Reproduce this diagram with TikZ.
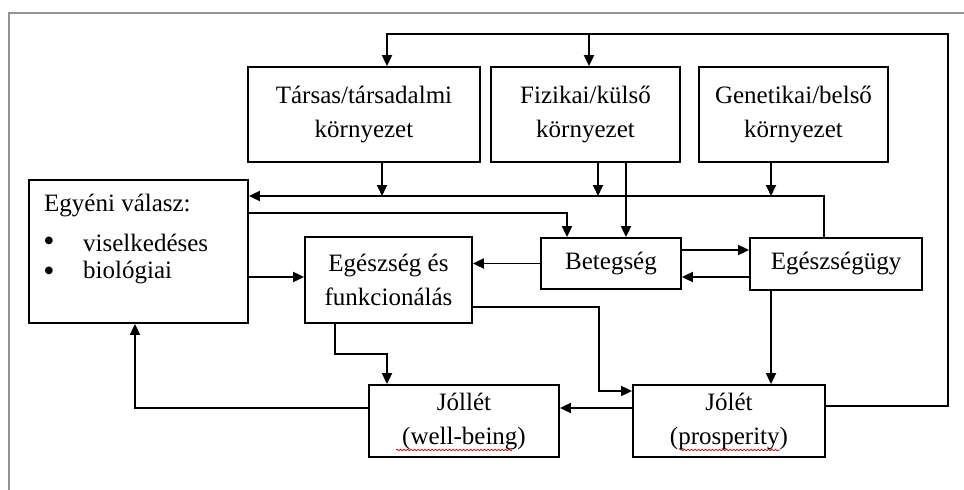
\documentclass[tikz,border=0pt]{standalone}
\usepackage{fontspec}
\setmainfont{Liberation Serif}
\usetikzlibrary{arrows.meta,decorations.pathmorphing}
\begin{document}
\begin{tikzpicture}[x=1pt,y=-1pt,
  box/.style={draw, line width=1.8pt, inner sep=0pt, align=center, font=\fontsize{25}{34}\selectfont},
  txt/.style={inner sep=0pt, font=\fontsize{25}{30}\selectfont},
  bul/.style={inner sep=0pt, font=\fontsize{32}{30}\selectfont},
  arr/.style={line width=1.8pt, -{Triangle[length=11pt,width=10pt]}},
  squig/.style={red!85!black, line width=0.8pt, decorate, decoration={snake, amplitude=0.7pt, segment length=3.5pt}}]
\useasboundingbox (0,0) rectangle (964,490);
\draw[gray!85, line width=2pt] (9,490) -- (9,13) -- (964,13);

\node[box, minimum width=232pt, minimum height=95pt] (tarsas) at (364,114.5) {Társas/társadalmi\\környezet};
\node[box, minimum width=189pt, minimum height=95pt] (fiz) at (585.5,114.5) {Fizikai/külső\\környezet};
\node[box, minimum width=189pt, minimum height=95pt] (gen) at (793.5,114.5) {Genetikai/belső\\környezet};
\node[box, minimum width=219pt, minimum height=143pt] (egyeni) at (138.5,251.5) {};
\node[txt, anchor=west] (egyt) at (44,206) {Egyéni válasz:};
\node[bul, anchor=center] (bul1) at (49,244) {•};
\node[txt, anchor=west] (vis) at (83,243) {viselkedéses};
\node[bul, anchor=center] (bul2) at (49,274) {•};
\node[txt, anchor=west] (bio) at (83,273) {biológiai};
\node[box, minimum width=167pt, minimum height=86pt] (egesz) at (388.5,280) {Egészség és\\funkcionálás};
\node[box, minimum width=140pt, minimum height=51pt] (betegseg) at (611,263.5) {Betegség};
\node[box, minimum width=172pt, minimum height=52pt] (egu) at (836,264) {Egészségügy};
\node[box, minimum width=190pt, minimum height=72pt] (jollet) at (464,421) {Jóllét\\(well-being)};
\node[box, minimum width=192pt, minimum height=72pt] (jolet) at (729,421) {Jólét\\(prosperity)};

\coordinate (topline) at (948,34);
\coordinate (fbl) at (0,196);
\coordinate (c1) at (0,354);
\coordinate (c2) at (599,350);

\draw[arr] ([yshift=15pt]jolet.east) -| (topline) -| ([xshift=23pt]tarsas.north);
\draw[arr] ([xshift=3.5pt]fiz.north |- topline) -- ([xshift=3.5pt]fiz.north);
\draw[arr] ([xshift=-12pt]egu.north) |- ([yshift=55.5pt]egyeni.east);
\draw[arr] ([xshift=18pt]tarsas.south) -- ([xshift=18pt]tarsas.south |- fbl);
\draw[arr] ([xshift=12.5pt]fiz.south) -- ([xshift=12.5pt]fiz.south |- fbl);
\draw[arr] ([xshift=-22.5pt]gen.south) -- ([xshift=-22.5pt]gen.south |- fbl);
\draw[arr] ([xshift=40.5pt]fiz.south) -- ([xshift=40.5pt]fiz.south |- betegseg.north);
\draw[arr] ([yshift=38.5pt]egyeni.east) -| ([xshift=-44pt]betegseg.north);
\draw[arr] ([yshift=-25.5pt]egyeni.east) -- ([yshift=-25.5pt]egyeni.east -| egesz.west);
\draw[arr] (betegseg.west) -- (betegseg.west -| egesz.east);
\draw[arr] ([yshift=13.5pt]betegseg.east) -- ([yshift=13.5pt]betegseg.east -| egu.west);
\draw[arr] ([yshift=-13pt]egu.west) -- ([yshift=-13pt]egu.west -| betegseg.east);
\draw[arr] ([xshift=-65pt]egu.south) -- ([xshift=-65pt]egu.south |- jolet.north);
\draw[arr] ([xshift=-53.5pt]egesz.south) -- ([xshift=-53.5pt]egesz.south |- c1) -| ([xshift=-77pt]jollet.north);
\draw[arr] ([yshift=-27pt]egesz.east) -| (c2) |- ([yshift=30pt]jolet.west);
\draw[arr] ([yshift=13pt]jolet.west) -- ([yshift=13pt]jolet.west -| jollet.east);
\draw[arr] ([yshift=13pt]jollet.west) -| ([xshift=-3.5pt]egyeni.south);

\draw[squig] (396,450) -- (512,450);
\draw[squig] (680,450) -- (780,450);
\end{tikzpicture}
\end{document}
